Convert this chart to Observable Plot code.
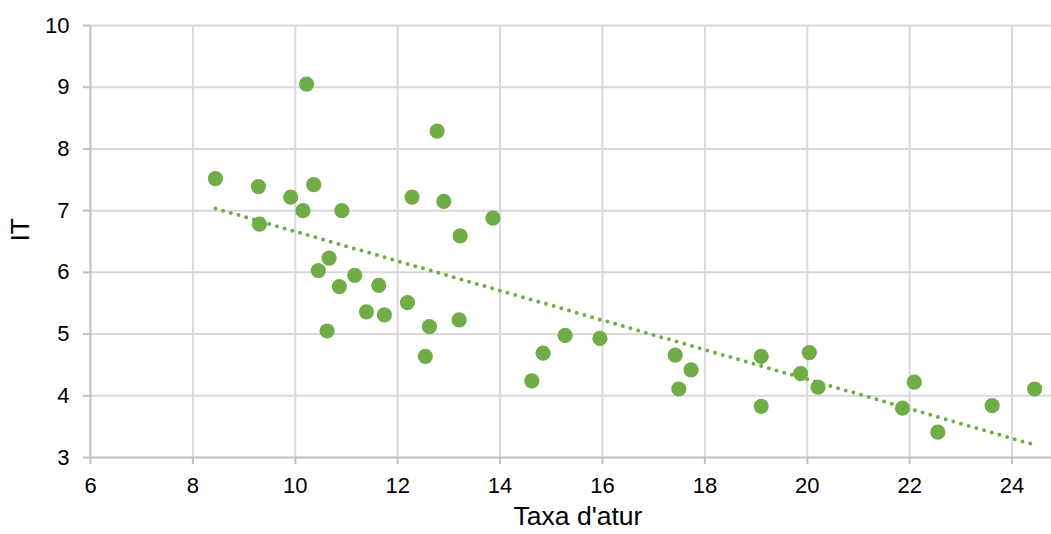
<!DOCTYPE html>
<html><head><meta charset="utf-8">
<script src="https://cdn.jsdelivr.net/npm/d3@7"></script>
<script src="https://cdn.jsdelivr.net/npm/@observablehq/plot@0.6"></script>
<style>html,body{margin:0;padding:0;background:#fff;overflow:hidden}</style>
</head><body><div id="chart"></div>
<script>
const taxaAtur = [8.44, 9.28, 9.30, 9.91, 10.15, 10.22, 10.36, 10.45, 10.62, 10.66, 10.86, 10.91, 11.16, 11.39, 11.63, 11.74, 12.19, 12.28, 12.54, 12.62, 12.77, 12.90, 13.20, 13.22, 13.86, 14.62, 14.84, 15.27, 15.95, 17.42, 17.49, 17.73, 19.10, 19.10, 19.87, 20.04, 20.21, 21.86, 22.09, 22.55, 23.61, 24.44];
const itValues = [7.52, 7.39, 6.78, 7.22, 7.00, 9.05, 7.42, 6.03, 5.05, 6.23, 5.77, 7.00, 5.95, 5.36, 5.79, 5.31, 5.51, 7.22, 4.64, 5.12, 8.29, 7.15, 5.23, 6.59, 6.88, 4.24, 4.69, 4.98, 4.93, 4.66, 4.11, 4.42, 4.64, 3.83, 4.36, 4.70, 4.14, 3.80, 4.22, 3.41, 3.84, 4.11];
const xTicks = [6, 8, 10, 12, 14, 16, 18, 20, 22, 24];
const yTicks = [3, 4, 5, 6, 7, 8, 9, 10];
const xLabel = "Taxa d'atur";
const yLabel = "IT";

const data = taxaAtur.map((x, i) => ({x, y: itValues[i]}));
const green = "#70AD47";

const chart = Plot.plot({
  width: 1051,
  height: 534,
  marginLeft: 90,
  marginRight: 0,
  marginTop: 25,
  marginBottom: 77,
  style: {fontFamily: "'Liberation Sans', Arial, sans-serif", fontSize: "22px", color: "#000", background: "#fff", overflow: "visible"},
  x: {domain: [6, 24.77]},
  y: {domain: [3, 10]},
  marks: [
    Plot.gridX(xTicks.slice(1), {stroke: "#d9d9d9", strokeOpacity: 1, strokeWidth: 2}),
    Plot.gridY(yTicks.slice(1), {stroke: "#d9d9d9", strokeOpacity: 1, strokeWidth: 2}),
    Plot.ruleX([6], {stroke: "#bfbfbf", strokeWidth: 2}),
    Plot.ruleY([3], {stroke: "#bfbfbf", strokeWidth: 2}),
    Plot.axisX(xTicks, {tickSize: 7, tickPadding: 13, stroke: "#bfbfbf", strokeWidth: 2, fill: "#000", label: null, tickFormat: d => String(d)}),
    Plot.axisY(yTicks, {tickSize: 7, tickPadding: 14, stroke: "#bfbfbf", strokeWidth: 2, fill: "#000", label: null, tickFormat: d => String(d)}),
    Plot.linearRegressionY(data, {x: "x", y: "y", ci: 0, stroke: green, strokeWidth: 4, strokeDasharray: "0 8", strokeLinecap: "round"}),
    Plot.dot(data, {x: "x", y: "y", r: 7.6, fill: green, stroke: null}),
    Plot.text([xLabel], {frameAnchor: "bottom", dy: 67, dx: 7, fontSize: 26.5, fill: "#000"}),
    Plot.text([yLabel], {frameAnchor: "left", dx: -70, rotate: -90, fontSize: 26.5, fill: "#000"})
  ]
});
document.getElementById("chart").appendChild(chart);
</script>
</body></html>
